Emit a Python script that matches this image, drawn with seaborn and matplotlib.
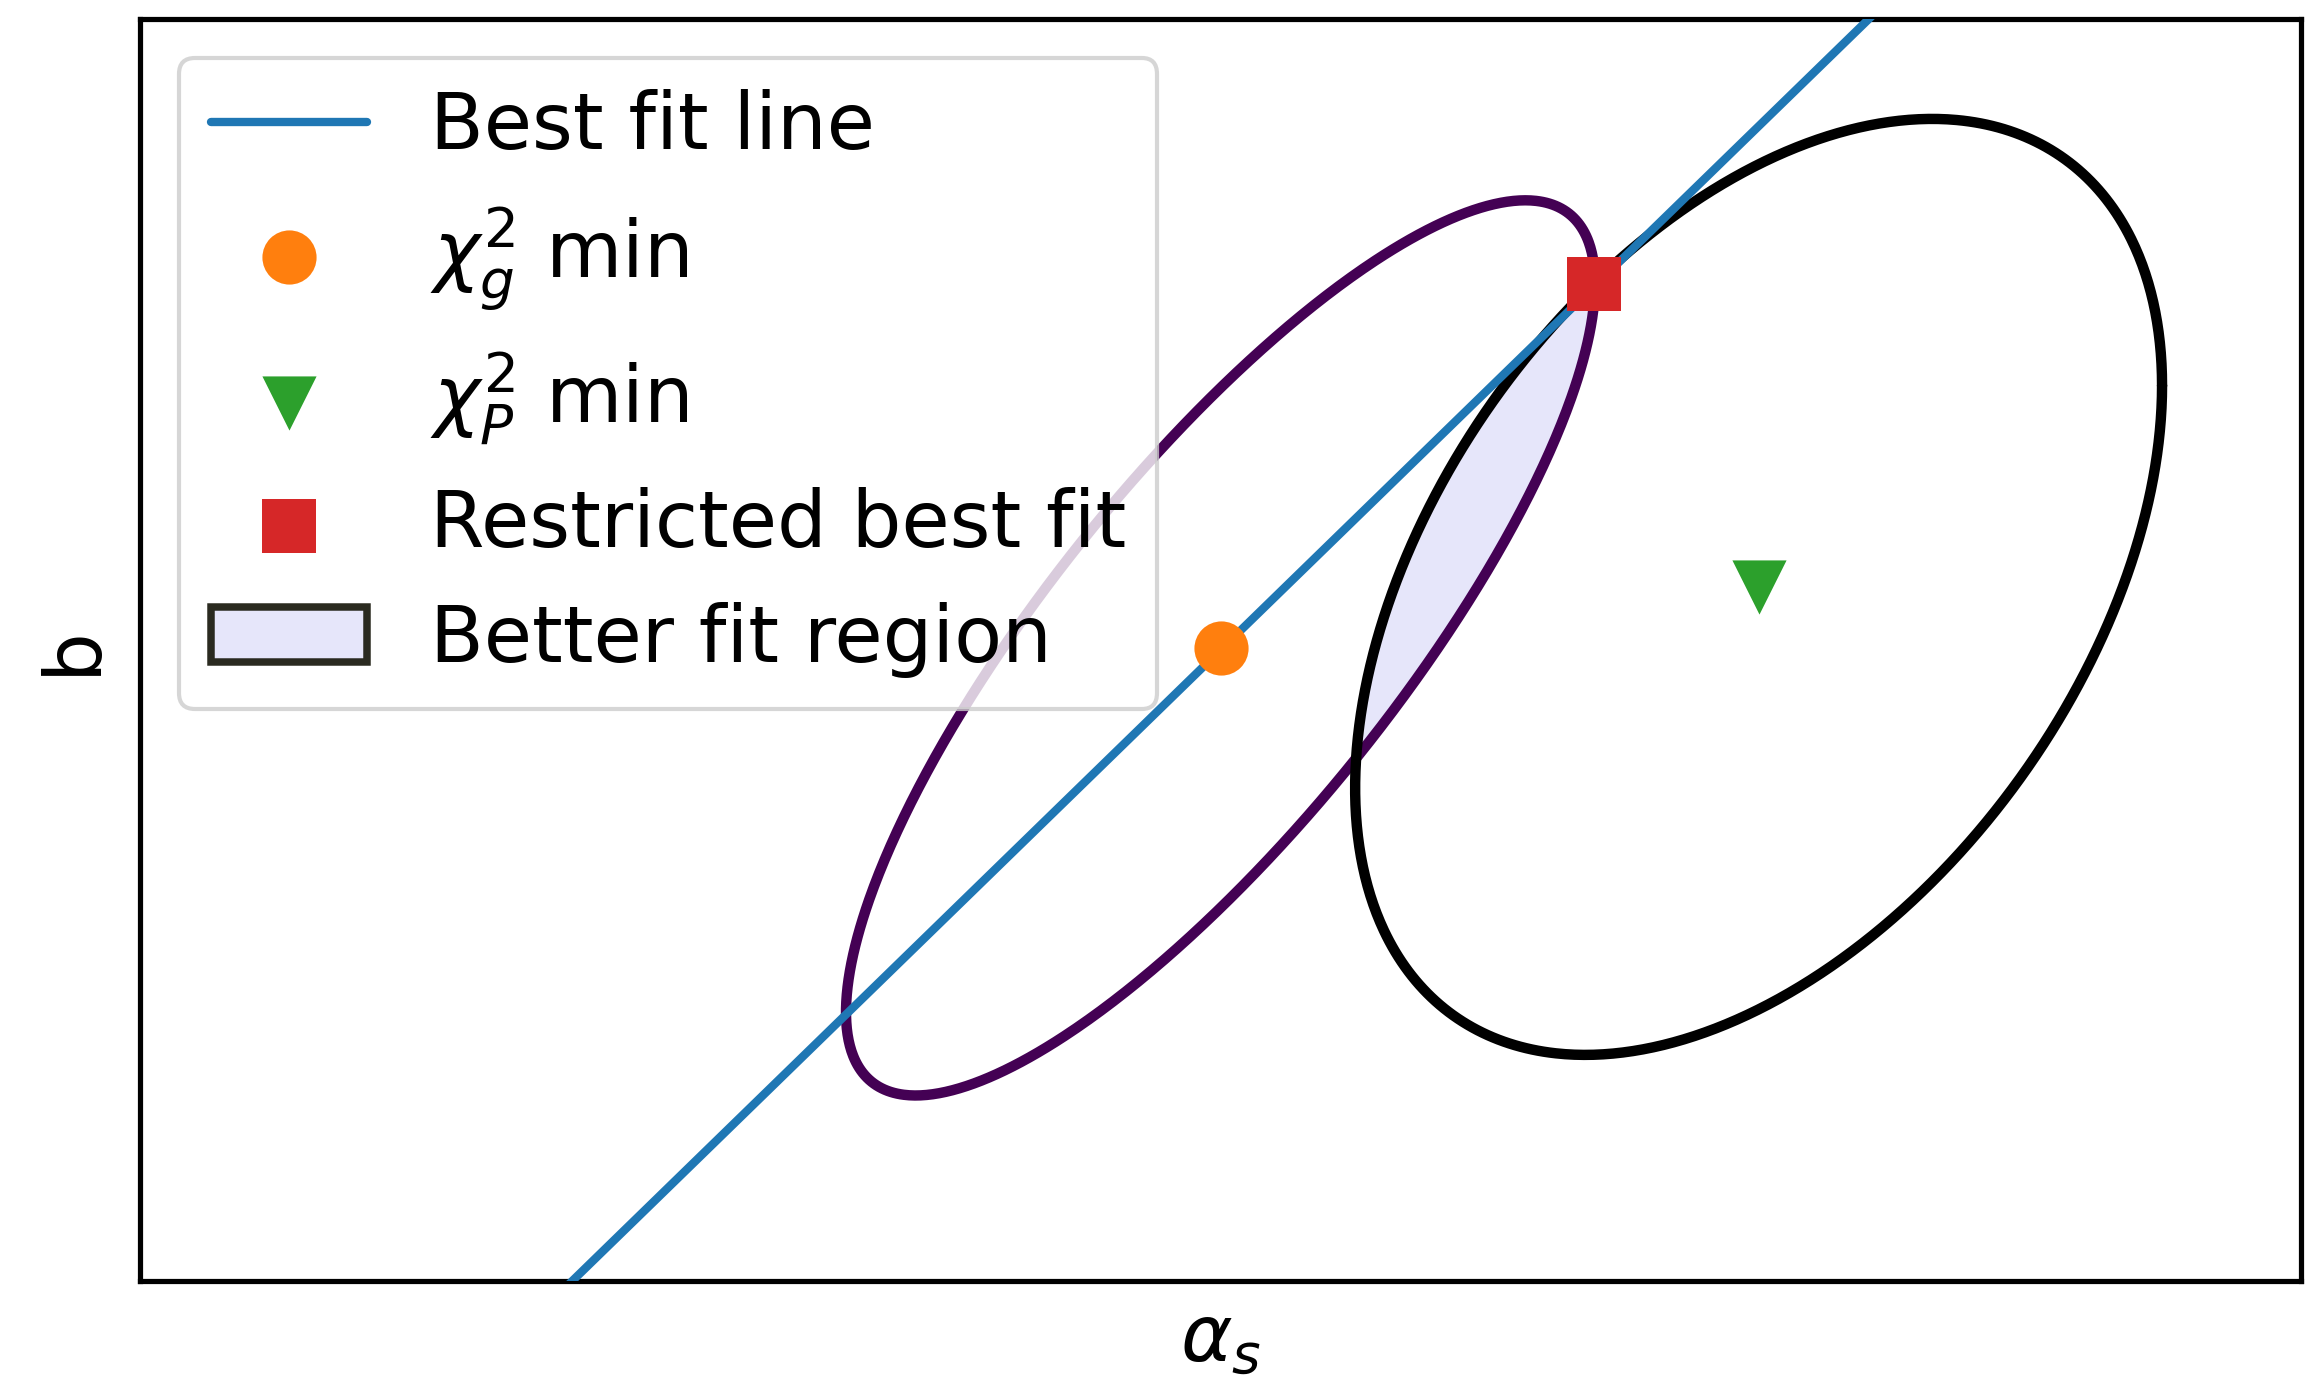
import numpy as np
import matplotlib
matplotlib.use("Agg")
import matplotlib.pyplot as plt
from matplotlib.patches import Patch
import seaborn as sns

# Plot window (alpha_s, b)
x_limits = [0.0, 10.0]
y_limits = [0.0, 6.0]

# Best fit line: b = slope * alpha_s + intercept
line_slope = 1.0
line_intercept = -2.0

# Special points (alpha_s, b)
chi2_g_min = [5.00, 3.01]
chi2_p_min = [7.49, 3.30]
restricted_fit = [6.73, 4.74]

# Contours of chi^2_g and chi^2_P: half extents along alpha_s and b, correlation
g_half_extent = [1.733, 2.128]
g_corr = 0.814
p_half_extent = [1.867, 2.225]
p_corr = 0.43

sns.set_theme(style="white")
plt.rcParams.update({
    "font.family": ["DejaVu Sans"],
    "mathtext.fontset": "dejavusans",
    "font.size": 18.8,
    "axes.labelsize": 18.8,
    "legend.fontsize": 18.8,
    "text.color": "black",
    "axes.labelcolor": "black",
    "axes.edgecolor": "black",
    "axes.linewidth": 1.25,
    "legend.framealpha": 0.8,
    "legend.edgecolor": "0.8",
    "legend.fancybox": True,
    "legend.borderaxespad": 0.5,
})

C0, C1, C2, C3 = sns.color_palette("tab10")[:4]
purple = "#440154"


def covariance(half_extent, corr):
    sx, sy = half_extent
    return np.array([[sx * sx, corr * sx * sy], [corr * sx * sy, sy * sy]])


def ellipse_points(center, cov, n=720):
    t = np.linspace(0.0, 2.0 * np.pi, n)
    L = np.linalg.cholesky(cov)
    pts = np.asarray(center)[:, None] + L @ np.vstack([np.cos(t), np.sin(t)])
    return pts


def quad_form(pts, center, cov):
    d = pts - np.asarray(center)[:, None]
    inv = np.linalg.inv(cov)
    return np.einsum("ij,ik,kj->j", d, inv, d)


cov_g = covariance(g_half_extent, g_corr)
cov_p = covariance(p_half_extent, p_corr)
ell_g = ellipse_points(chi2_g_min, cov_g)
ell_p = ellipse_points(chi2_p_min, cov_p)

# Overlap of the two regions (convex), traced from both boundaries
inside_g = ell_p[:, quad_form(ell_p, chi2_g_min, cov_g) <= 1.0]
inside_p = ell_g[:, quad_form(ell_g, chi2_p_min, cov_p) <= 1.0]
overlap = np.hstack([inside_g, inside_p])
cx, cy = overlap.mean(axis=1)
order = np.argsort(np.arctan2(overlap[1] - cy, overlap[0] - cx))
overlap = overlap[:, order]

fig = plt.figure(figsize=(2306 / 300, 1380 / 300), dpi=300)
ax = fig.add_axes([140 / 2306, 1 - 1281 / 1380, 2161 / 2306, 1262 / 1380])

ax.fill(overlap[0], overlap[1], color="lavender", lw=0, zorder=1)

sns.lineplot(x=ell_g[0], y=ell_g[1], sort=False, estimator=None,
             color=purple, lw=2.5, ax=ax, legend=False, zorder=2)
sns.lineplot(x=ell_p[0], y=ell_p[1], sort=False, estimator=None,
             color="black", lw=2.5, ax=ax, legend=False, zorder=2.1)

x_line = np.array(x_limits)
y_line = line_slope * x_line + line_intercept
sns.lineplot(x=x_line, y=y_line, color=C0, lw=2, ax=ax,
             label="Best fit line", zorder=3)

sns.scatterplot(x=[chi2_g_min[0]], y=[chi2_g_min[1]], marker="o", s=169,
                color=C1, linewidth=0, ax=ax, label=r"$\chi^2_g$ min", zorder=4)
sns.scatterplot(x=[chi2_p_min[0]], y=[chi2_p_min[1]], marker="v", s=169,
                color=C2, linewidth=0, ax=ax, label=r"$\chi^2_P$ min", zorder=4)
sns.scatterplot(x=[restricted_fit[0]], y=[restricted_fit[1]], marker="s", s=169,
                color=C3, linewidth=0, ax=ax, label="Restricted best fit", zorder=5)

ax.set_xlim(x_limits)
ax.set_ylim(y_limits)
ax.set_xticks([])
ax.set_yticks([])
ax.set_xlabel(r"$\alpha_s$", labelpad=5)
ax.set_ylabel("b", labelpad=7)

handles, labels = ax.get_legend_handles_labels()
handles.append(Patch(facecolor="lavender", edgecolor="#2a2a20", linewidth=1.8))
labels.append("Better fit region")
ax.legend(handles, labels, loc="upper left")

fig.savefig("out.png", dpi=300)
